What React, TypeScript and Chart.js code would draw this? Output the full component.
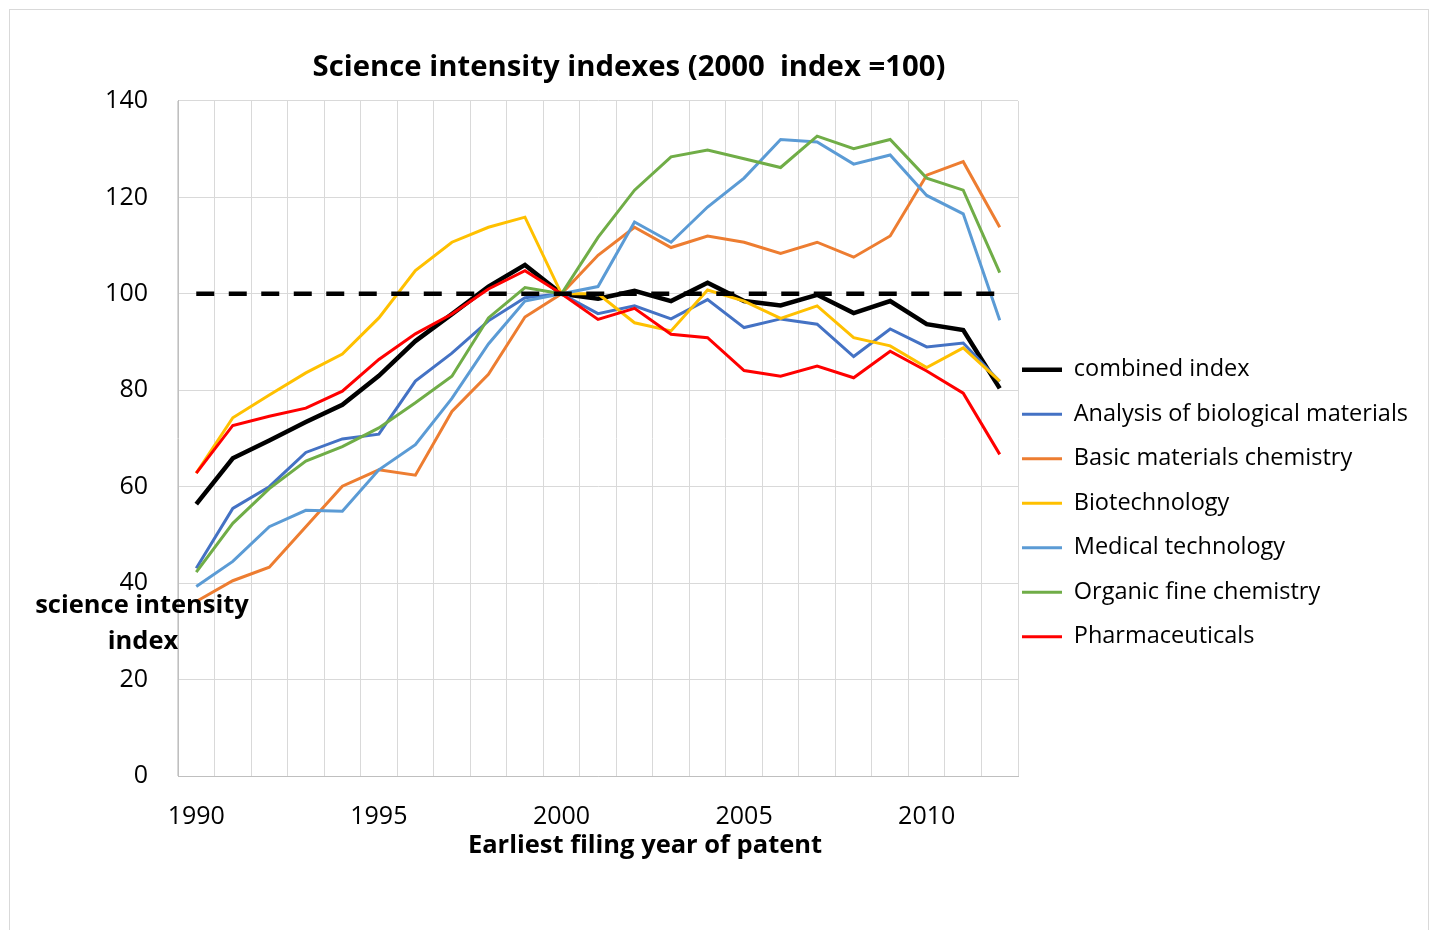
import React, { useEffect, useRef } from "react";
import { Chart, registerables } from "chart.js";

Chart.register(...registerables);

const years = [
  "1990", "1991", "1992", "1993", "1994", "1995", "1996", "1997", "1998", "1999", "2000",
  "2001", "2002", "2003", "2004", "2005", "2006", "2007", "2008", "2009", "2010", "2011", "2012",
];

const combinedIndex = [56.4, 65.9, 69.6, 73.4, 77.0, 83.0, 90.2, 95.8, 101.5, 106.0, 100, 99.0, 100.6, 98.5, 102.3, 98.5, 97.6, 99.8, 96.0, 98.5, 93.7, 92.5, 80.4];
const analysisBio = [43.1, 55.5, 60.0, 67.1, 69.9, 70.9, 81.9, 87.7, 94.4, 99.2, 100, 95.9, 97.5, 94.8, 98.8, 93.0, 94.8, 93.7, 87.0, 92.7, 89.0, 89.8, 81.8];
const basicMaterials = [36.2, 40.5, 43.3, 51.7, 60.1, 63.5, 62.4, 75.6, 83.3, 95.2, 100, 108.0, 113.8, 109.6, 112.0, 110.7, 108.4, 110.7, 107.6, 112.0, 124.6, 127.4, 113.8];
const biotechnology = [62.8, 74.3, 79.0, 83.6, 87.5, 95.0, 104.8, 110.7, 113.8, 115.9, 100, 100.0, 94.0, 92.3, 100.8, 98.5, 94.9, 97.5, 90.9, 89.2, 84.7, 88.8, 81.9];
const medicalTech = [39.3, 44.5, 51.7, 55.1, 54.9, 63.5, 68.7, 78.3, 89.6, 98.5, 100, 101.5, 114.9, 110.7, 118.0, 124.0, 132.0, 131.5, 126.9, 128.8, 120.4, 116.6, 94.5];
const organicFine = [42.3, 52.4, 59.6, 65.3, 68.3, 72.2, 77.4, 82.9, 95.0, 101.3, 100, 111.7, 121.5, 128.4, 129.8, 128.0, 126.2, 132.7, 130.1, 132.0, 124.0, 121.5, 104.4];
const pharmaceuticals = [62.8, 72.7, 74.6, 76.3, 79.8, 86.4, 91.7, 95.8, 101.0, 104.8, 100, 94.7, 97.0, 91.6, 90.9, 84.1, 82.9, 85.0, 82.6, 88.1, 84.0, 79.4, 66.7];
const baseline = [100, 100, 100, 100, 100, 100, 100, 100, 100, 100, 100, 100, 100, 100, 100, 100, 100, 100, 100, 100, 100, 100, 100];

const yTicks = [0, 20, 40, 60, 80, 100, 120, 140];
const labeledYears = ["1990", "1995", "2000", "2005", "2010"];

const FONT = "'Open Sans'";

const series = [
  { label: "combined index", data: combinedIndex, color: "#000000", width: 4.5 },
  { label: "Analysis of biological materials", data: analysisBio, color: "#4472C4", width: 3 },
  { label: "Basic materials chemistry", data: basicMaterials, color: "#ED7D31", width: 3 },
  { label: "Biotechnology", data: biotechnology, color: "#FFC000", width: 3 },
  { label: "Medical technology", data: medicalTech, color: "#5B9BD5", width: 3 },
  { label: "Organic fine chemistry", data: organicFine, color: "#70AD47", width: 3 },
  { label: "Pharmaceuticals", data: pharmaceuticals, color: "#FF0000", width: 3 },
];

const LEGEND_PAD = 21;

const decor = {
  id: "decor",
  beforeDraw(chart: any) {
    const ctx = chart.ctx;
    ctx.save();
    ctx.fillStyle = "#ffffff";
    ctx.fillRect(0, 0, chart.width, chart.height);
    ctx.strokeStyle = "#d9d9d9";
    ctx.lineWidth = 1;
    ctx.strokeRect(9.5, 9.5, 1419, 940);
    ctx.restore();
  },
  afterLayout(chart: any) {
    const lg = chart.legend;
    if (lg) {
      lg.left = 1022 - LEGEND_PAD;
      lg.right = 1430;
      lg.top = 358 - LEGEND_PAD;
      lg.bottom = 930;
    }
  },
  afterDraw(chart: any) {
    const ctx = chart.ctx;
    ctx.save();
    ctx.fillStyle = "#000000";
    ctx.font = `bold 25.5px ${FONT}`;
    ctx.textAlign = "center";
    ctx.textBaseline = "middle";
    ctx.fillText("Earliest filing year of patent", 645, 846);
    ctx.fillText("science intensity", 142, 606);
    ctx.fillText("index", 143, 642);
    ctx.restore();
  },
};

export default function App() {
  const ref = useRef<HTMLCanvasElement>(null);

  useEffect(() => {
    if (!ref.current) return;
    const datasets: any[] = series.map((s, i) => ({
      label: s.label,
      data: s.data,
      borderColor: s.color,
      backgroundColor: s.color,
      borderWidth: s.width,
      pointRadius: 0,
      pointHoverRadius: 0,
      tension: 0,
      fill: false,
      order: 7 - i,
    }));
    datasets.push({
      label: "index 100",
      data: baseline,
      borderColor: "#000000",
      backgroundColor: "#000000",
      borderWidth: 4.5,
      borderDash: [18, 14.5],
      pointRadius: 0,
      pointHoverRadius: 0,
      tension: 0,
      fill: false,
      order: 0,
    });

    const chart = new Chart(ref.current, {
      type: "line",
      data: { labels: years, datasets },
      options: {
        responsive: false,
        animation: false,
        devicePixelRatio: 1,
        layout: { padding: { left: 0, right: 172, top: 0, bottom: 72 } },
        plugins: {
          title: {
            display: true,
            text: "Science intensity indexes (2000  index =100)",
            color: "#000000",
            font: { family: FONT, size: 29.3, weight: "bold" },
            padding: { top: 50.4, bottom: 15.4 },
          },
          legend: {
            position: "right",
            align: "start",
            maxWidth: 240,
            labels: {
              color: "#000000",
              font: { family: FONT, size: 23.5 },
              usePointStyle: true,
              pointStyle: "line",
              pointStyleWidth: 40,
              padding: LEGEND_PAD,
              filter: (item: any) => item.datasetIndex !== 7,
              sort: (a: any, b: any) => a.datasetIndex - b.datasetIndex,
            },
          },
          tooltip: { enabled: false },
        },
        scales: {
          x: {
            type: "category",
            offset: true,
            grid: { offset: true, color: "#d9d9d9", drawTicks: false, lineWidth: 1 },
            border: { color: "#bfbfbf", width: 1 },
            ticks: {
              autoSkip: false,
              maxRotation: 0,
              minRotation: 0,
              padding: 26,
              color: "#000000",
              font: { family: FONT, size: 25 },
              callback: (_v: any, i: number) => (labeledYears.includes(years[i]) ? years[i] : ""),
            },
          },
          y: {
            min: yTicks[0],
            max: yTicks[yTicks.length - 1],
            afterBuildTicks: (scale: any) => {
              scale.ticks = yTicks.map((v) => ({ value: v }));
            },
            afterFit: (scale: any) => {
              scale.width = 178;
            },
            grid: { color: "#d9d9d9", drawTicks: false, lineWidth: 1 },
            border: { color: "#bfbfbf", width: 1 },
            ticks: {
              padding: 30,
              color: "#000000",
              font: { family: FONT, size: 25 },
            },
          },
        },
      } as any,
      plugins: [decor],
    });
    return () => chart.destroy();
  }, []);

  return (
    <div style={{ position: "fixed", left: 0, top: 0, width: 1430, height: 930, background: "#fff" }}>
      <canvas ref={ref} width={1430} height={930} style={{ display: "block", width: 1430, height: 930 }} />
    </div>
  );
}
